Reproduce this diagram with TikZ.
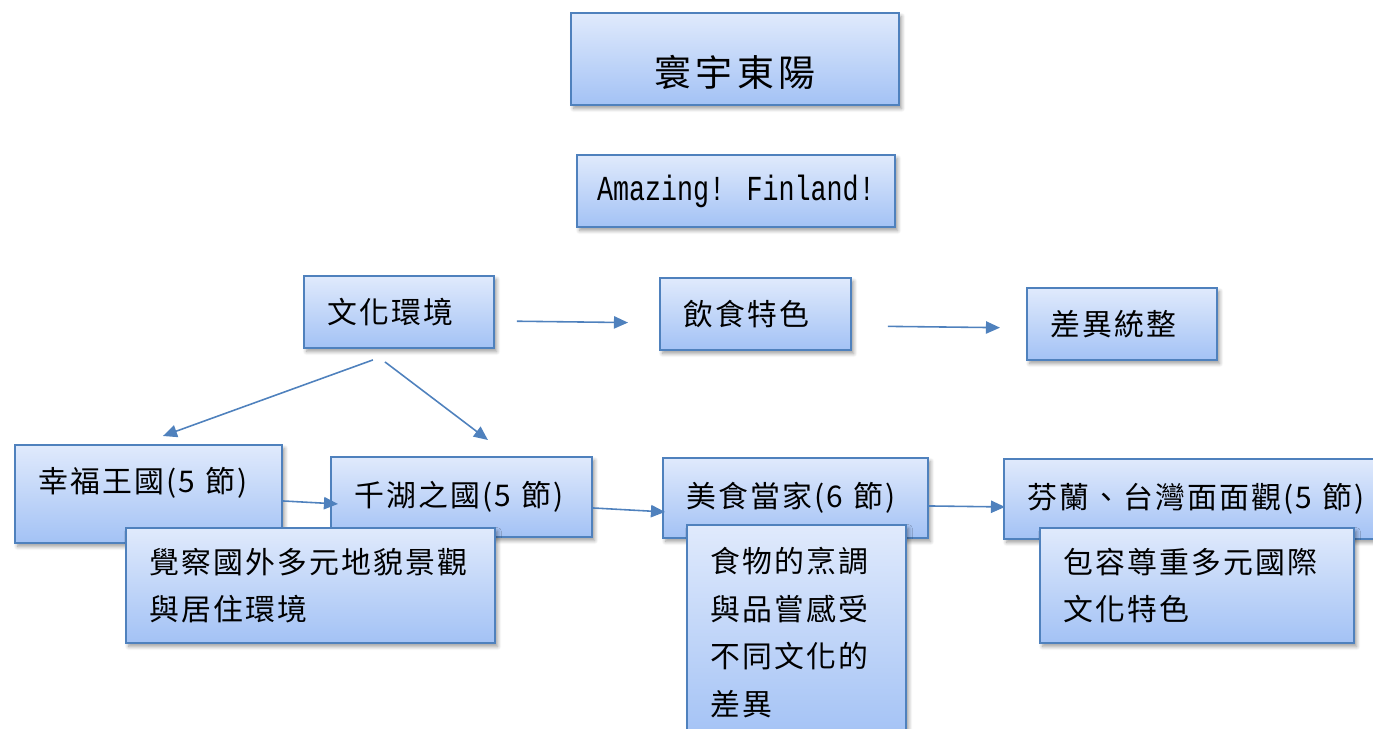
\documentclass[tikz,border=0pt]{standalone}
\usepackage{fontspec}
\setmainfont{Noto Sans CJK TC}
\newfontfamily\cjkhead[LetterSpace=7]{Noto Sans CJK TC}
\newfontfamily\cjktitle[LetterSpace=12]{Noto Sans CJK TC}
\newfontfamily\latinmono[FakeStretch=0.76]{Liberation Mono}
\usetikzlibrary{arrows.meta,shadows.blur}
\definecolor{boxline}{RGB}{79,129,189}
\definecolor{boxtop}{RGB}{224,234,252}
\definecolor{boxbottom}{RGB}{163,194,245}
\definecolor{arrowblue}{RGB}{79,129,189}

\begin{document}
\begin{tikzpicture}[
        % 全局設定:1 單位 = 1 像素
        x=0.02cm, y=-0.02cm,
        % 方框樣式:藍框、漸層、陰影
        plain_box/.style={
            draw=boxline,
            line width=1.1pt,
            top color=boxtop,
            bottom color=boxbottom,
            blur shadow={shadow xshift=1.5pt, shadow yshift=-2pt, shadow blur steps=6},
            anchor=north west,
            inner ysep=0pt
        },
        % 標題框樣式:文字置中
        title_box/.style={
            plain_box,
            align=center,
            inner xsep=0pt
        },
        % 單元框樣式:文字靠左
        unit_box/.style={
            plain_box,
            align=left,
            inner xsep=0.48cm,
            font=\fontsize{17pt}{27pt}\cjkhead
        },
        % 箭頭樣式
        flow_arrow/.style={
            draw=arrowblue,
            line width=0.9pt,
            -{Triangle[length=8pt, width=7pt]}
        }
    ]
        \useasboundingbox (0,0) rectangle (1373,729);
        \clip (0,0) rectangle (1373,729);

        % ==========================
        % 上方:標題
        % ==========================
        \node[title_box, minimum width=6.56cm, minimum height=1.84cm, text height=33pt,
              font=\fontsize{21pt}{24pt}\cjktitle] (title) at (570,12) {寰宇東陽};
        \node[title_box, minimum width=6.36cm, minimum height=1.44cm,
              font=\fontsize{20pt}{24pt}\latinmono] (slogan) at (576,154) {Amazing! Finland!};

        % ==========================
        % 中間:三個主題
        % ==========================
        \node[unit_box, text width=2.84cm, minimum height=1.44cm] (culture) at (303,275) {文化環境};
        \node[unit_box, text width=2.86cm, minimum height=1.44cm] (food) at (659,277) {飲食特色};
        \node[unit_box, text width=2.84cm, minimum height=1.44cm] (summary) at (1026,287) {差異統整};

        % ==========================
        % 下方:單元與說明
        % ==========================
        \node[unit_box, text width=4.38cm, minimum height=1.96cm, text depth=16pt] (happy) at (14,444) {幸福王國(5 節)};
        \node[unit_box, text width=4.26cm, minimum height=1.6cm] (lakes) at (330,456) {千湖之國(5 節)};
        \node[unit_box, text width=4.34cm, minimum height=1.6cm] (gourmet) at (662,457) {美食當家(6 節)};
        \node[unit_box, text width=7.04cm, minimum height=1.6cm] (compare) at (1003,458) {芬蘭、台灣面面觀(5 節)};

        % 說明框 (蓋在單元框上層)
        \node[unit_box, text width=6.42cm, minimum height=2.3cm] (happy_note) at (125,527) {覺察國外多元地貌景觀\\與居住環境};
        \node[unit_box, text width=3.42cm, minimum height=4.3cm] (gourmet_note) at (686,524) {食物的烹調\\與品嘗感受\\不同文化的\\差異};
        \node[unit_box, text width=5.32cm, minimum height=2.3cm] (compare_note) at (1039,527) {包容尊重多元國際\\文化特色};

        % ==========================
        % 箭頭
        % ==========================
        \draw[flow_arrow, shorten <=0.44cm, shorten >=0.62cm] ([yshift=-0.18cm]culture.east) -- ([yshift=-0.18cm]food.west);
        \draw[flow_arrow, shorten <=0.72cm, shorten >=0.52cm] ([yshift=-0.24cm]food.east) -- ([yshift=-0.08cm]summary.west);

        \coordinate (split_left) at ([xshift=-0.52cm, yshift=-0.22cm]culture.south);
        \coordinate (split_right) at ([xshift=-0.28cm, yshift=-0.26cm]culture.south);
        \draw[flow_arrow] (split_left) -- ([xshift=0.29cm, yshift=0.16cm]happy.north);
        \draw[flow_arrow] (split_right) -- ([xshift=0.53cm, yshift=0.32cm]lakes.north);

        \draw[flow_arrow] ([yshift=-0.14cm]happy.east) -- ([xshift=0.16cm, yshift=-0.14cm]lakes.west);
        \draw[flow_arrow] ([yshift=-0.22cm]lakes.east) -- ([xshift=0.06cm, yshift=-0.28cm]gourmet.west);
        \draw[flow_arrow] ([yshift=-0.16cm]gourmet.east) -- ([xshift=0.04cm, yshift=-0.16cm]compare.west);

\end{tikzpicture}
\end{document}
